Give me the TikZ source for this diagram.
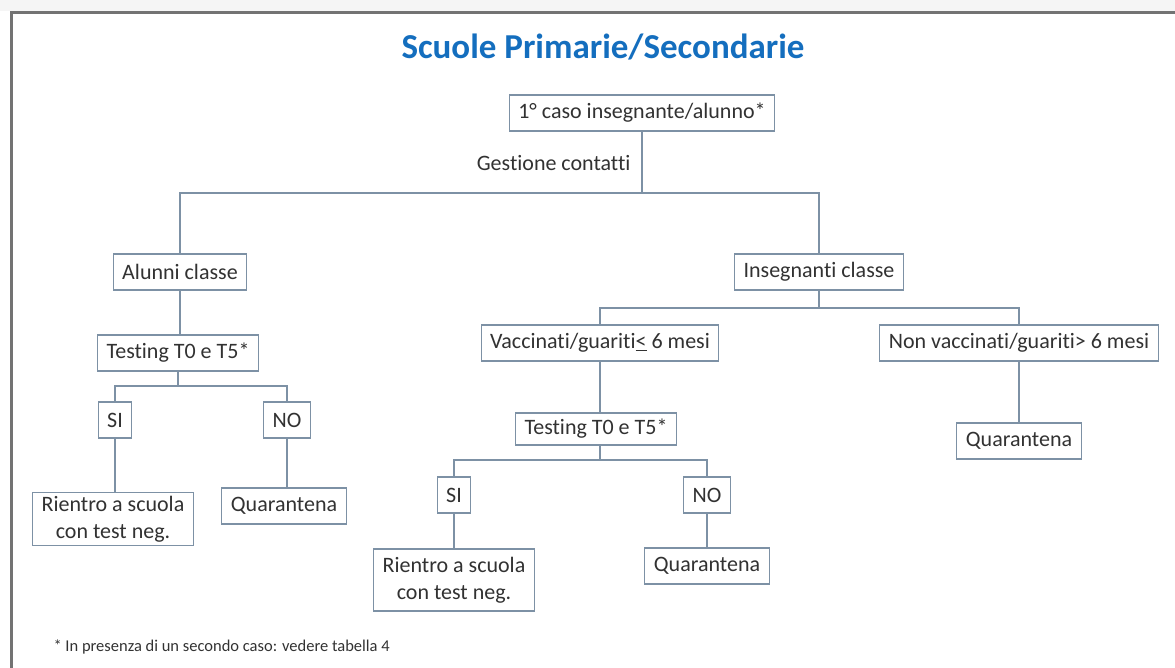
\documentclass[tikz,border=0pt]{standalone}
\usepackage{fontspec}
\setmainfont{Carlito}[Ligatures={NoCommon}]
\definecolor{boxline}{RGB}{125,145,165}
\definecolor{titleblue}{RGB}{20,110,190}
\definecolor{txtgray}{RGB}{50,50,50}

\begin{document}
\begin{tikzpicture}[x=1pt, y=-1pt,
	box/.style={draw=boxline, line width=1.1pt, fill=white, text=txtgray,
		font=\fontsize{22}{27}\selectfont, inner xsep=9pt, inner ysep=0pt,
		minimum height=36pt, align=center},
	link/.style={draw=boxline, line width=1.1pt}]
		%%%%% START %%%%%
		
		\useasboundingbox (0, 0) rectangle (1175, 668);
		\fill[color=black!4] (0, 0) rectangle (1175, 11);
		\draw[line width=3pt, color=black!55] (11, 668) -- (11, 13) -- (1175, 13);
		
		\node[font=\fontsize{35}{42}\selectfont\bfseries, text=titleblue] (titolo) at (603, 47) {Scuole Primarie/Secondarie};
		
		\node[box] (caso) at (642, 113) {1° caso insegnante/alunno*};
		\node[font=\fontsize{22}{27}\selectfont, text=txtgray, anchor=east] (gestione) at (634, 163) {Gestione contatti};
		\coordinate (bivio) at (642, 193);
		
		\node[box] (alunni) at (180, 272) {Alunni classe};
		\node[box] (insegnanti) at (819, 272) {Insegnanti classe};
		
		% ramo alunni
		\node[box] (testA) at (178, 353) {Testing T0 e T5*};
		\coordinate (bivioA) at (178, 386);
		\node[box] (siA) at (115, 420) {SI};
		\node[box] (noA) at (287, 420) {NO};
		\node[box, minimum height=53pt] (rientroA) at (113, 519) {Rientro a scuola\\con test neg.};
		\node[box] (quarA) at (284, 506) {Quarantena};
		
		% ramo insegnanti
		\coordinate (bivioI) at (819, 308);
		\node[box] (vacc) at (600, 343) {Vaccinati/guariti\underline{<} 6 mesi};
		\node[box] (nonvacc) at (1019, 343) {Non vaccinati/guariti> 6 mesi};
		\node[box, minimum height=32pt] (testB) at (596, 429) {Testing T0 e T5*};
		\coordinate (bivioB) at (600, 460);
		\node[box] (siB) at (454, 495) {SI};
		\node[box] (noB) at (707, 495) {NO};
		\node[box, minimum height=62pt] (rientroB) at (454, 580) {Rientro a scuola\\con test neg.};
		\node[box] (quarB) at (707, 566) {Quarantena};
		\node[box] (quarC) at (1019, 441) {Quarantena};
		
		\node[font=\fontsize{16.5}{20}\selectfont, text=txtgray, anchor=west] (nota) at (50, 647) {* In presenza di un secondo caso: vedere tabella 4};
		
		\draw[link] (caso.south) -- (bivio);
		\draw[link] (bivio) -| (alunni.north);
		\draw[link] (bivio) -| (insegnanti.north);
		
		\draw[link] (alunni) -- (alunni |- testA.north);
		\draw[link] (testA.south) -- (bivioA);
		\draw[link] (bivioA) -| (siA.north);
		\draw[link] (bivioA) -| (noA.north);
		\draw[link] (siA) -- (siA |- rientroA.north);
		\draw[link] (noA) -- (noA |- quarA.north);
		
		\draw[link] (insegnanti.south) -- (bivioI);
		\draw[link] (bivioI) -| (vacc.north);
		\draw[link] (bivioI) -| (nonvacc.north);
		\draw[link] (vacc) -- (vacc |- testB.north);
		\draw[link] (vacc |- testB.south) -- (bivioB);
		\draw[link] (bivioB) -| (siB.north);
		\draw[link] (bivioB) -| (noB.north);
		\draw[link] (siB) -- (rientroB);
		\draw[link] (noB) -- (quarB);
		\draw[link] (nonvacc) -- (quarC);
		
		%%%%% END %%%%%
	\end{tikzpicture}
\end{document}
